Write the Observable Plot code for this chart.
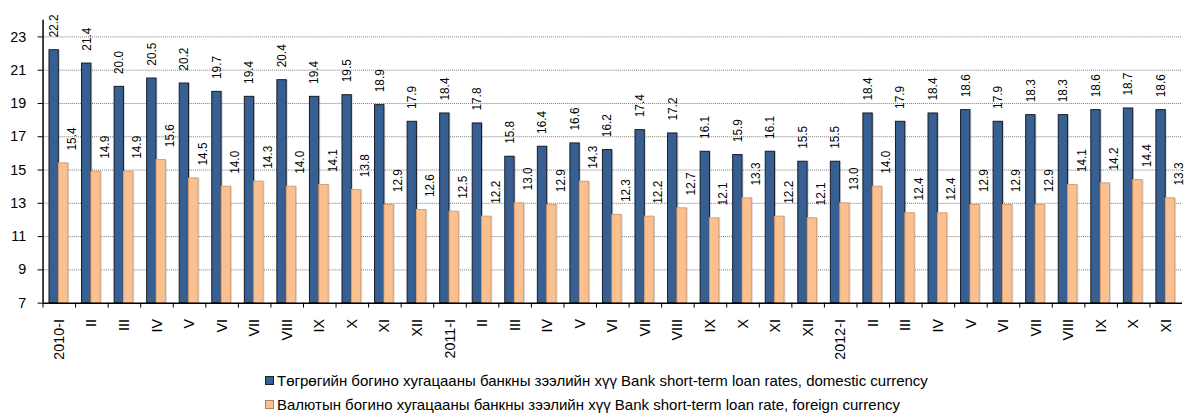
<!DOCTYPE html>
<html>
<head>
<meta charset="utf-8">
<script src="https://cdn.jsdelivr.net/npm/d3@7"></script>
<script src="https://cdn.jsdelivr.net/npm/@observablehq/plot@0.6"></script>
<style>
  html, body { margin: 0; padding: 0; background: #fff; overflow: hidden; }
  body { font-family: "Liberation Sans", Arial, sans-serif; width: 1187px; }
  #legend { padding-left: 265px; padding-top: 4px; font-size: 15px; color: #000; }
  .item { display: flex; align-items: center; height: 24px; }
  .sw { width: 7px; height: 7px; margin-right: 3px; border: 1px solid #222; }
</style>
</head>
<body>
<div id="chart"></div>
<div id="legend"></div>
<script>
// ---- data ----
const periods = [
  "2010-I","2010-II","2010-III","2010-IV","2010-V","2010-VI","2010-VII","2010-VIII","2010-IX","2010-X","2010-XI","2010-XII",
  "2011-I","2011-II","2011-III","2011-IV","2011-V","2011-VI","2011-VII","2011-VIII","2011-IX","2011-X","2011-XI","2011-XII",
  "2012-I","2012-II","2012-III","2012-IV","2012-V","2012-VI","2012-VII","2012-VIII","2012-IX","2012-X","2012-XI"
];
const tickLabels = [
  "2010-I","II","III","IV","V","VI","VII","VIII","IX","X","XI","XII",
  "2011-I","II","III","IV","V","VI","VII","VIII","IX","X","XI","XII",
  "2012-I","II","III","IV","V","VI","VII","VIII","IX","X","XI"
];
const domestic = [22.2,21.4,20.0,20.5,20.2,19.7,19.4,20.4,19.4,19.5,18.9,17.9,
  18.4,17.8,15.8,16.4,16.6,16.2,17.4,17.2,16.1,15.9,16.1,15.5,
  15.5,18.4,17.9,18.4,18.6,17.9,18.3,18.3,18.6,18.7,18.6];
const foreign = [15.4,14.9,14.9,15.6,14.5,14.0,14.3,14.0,14.1,13.8,12.9,12.6,
  12.5,12.2,13.0,12.9,14.3,12.3,12.2,12.7,12.1,13.3,12.2,12.1,
  13.0,14.0,12.4,12.4,12.9,12.9,12.9,14.1,14.2,14.4,13.3];
const yTicks = [7,9,11,13,15,17,19,21,23];
const seriesNames = [
  "Төгрөгийн богино хугацааны банкны зээлийн хүү Bank short-term loan rates, domestic currency",
  "Валютын богино хугацааны банкны зээлийн хүү Bank short-term loan rate, foreign currency"
];
const colors = ["#375F92", "#FAC090"];

// ---- build ----
const data = periods.map((p, i) => ({key: p, label: tickLabels[i], dom: domestic[i], fx: foreign[i]}));

const W = 1200, ML = 43, MR = 5;
const step = (W - ML - MR) / periods.length;

const chart = Plot.plot({
  width: W,
  height: 368,
  marginLeft: ML,
  marginRight: MR,
  marginTop: 20,
  marginBottom: 62,
  style: {fontFamily: "'Liberation Sans', Arial, sans-serif", fontSize: "14px", color: "#000", background: "#fff", overflow: "visible"},
  x: {domain: periods, padding: 0, axis: null, label: null},
  y: {domain: [7, 24], axis: null, label: null},
  marks: [
    Plot.ruleY(yTicks.filter(t => t > 7), {stroke: "#7a7a7a", strokeWidth: 1, strokeDasharray: "1,1"}),
    // shadows
    Plot.barY(data, {x: "key", y1: 7, y2: "dom", fill: "#000", fillOpacity: 0.18, insetLeft: 6.5, insetRight: 17, dx: 1.5}),
    Plot.barY(data, {x: "key", y1: 7, y2: "fx", fill: "#000", fillOpacity: 0.15, insetLeft: 16, insetRight: 7.5, dx: 1.5}),
    Plot.barY(data, {x: "key", y1: 7, y2: "dom", fill: colors[0], stroke: "#141c28", strokeWidth: 1, insetLeft: 6.5, insetRight: 17}),
    Plot.barY(data, {x: "key", y1: 7, y2: "fx", fill: colors[1], stroke: "#d9a075", strokeWidth: 1, insetLeft: 16, insetRight: 7.5}),
    Plot.text(data, {x: "key", y: "dom", text: d => d.dom.toFixed(1), rotate: -90, textAnchor: "start", lineAnchor: "middle", dy: -13, dx: -5.2, fontSize: 12, fill: "#000"}),
    Plot.text(data, {x: "key", y: "fx", text: d => d.fx.toFixed(1), rotate: -90, textAnchor: "start", lineAnchor: "middle", dy: -13, dx: 13.3, fontSize: 12, fill: "#000"}),
    // axes lines
    Plot.ruleY([7], {stroke: "#000", strokeWidth: 1.5}),
    Plot.ruleX([periods[0]], {y1: 7, y2: 24, dx: -step / 2, stroke: "#000", strokeWidth: 1.5}),
    Plot.axisY({ticks: yTicks, tickSize: 5, label: null, tickFormat: () => ""}),
    Plot.text(yTicks, {y: d => d, text: d => String(d), frameAnchor: "left", textAnchor: "end", dx: -17, fontSize: 14.5, fill: "#000"}),
    Plot.axisX({tickSize: 5, label: null, tickFormat: () => "", dx: -step / 2}),
    Plot.text(data, {x: "key", y: 7, text: "label", rotate: -90, textAnchor: "end", lineAnchor: "middle", dy: 16, fontSize: 14.5, fill: "#000"})
  ]
});
document.getElementById("chart").appendChild(chart);

const legend = document.getElementById("legend");
seriesNames.forEach((name, i) => {
  const row = document.createElement("div");
  row.className = "item";
  const sw = document.createElement("span");
  sw.className = "sw";
  sw.style.background = colors[i];
  if (i === 1) sw.style.borderColor = "#b08060";
  const t = document.createElement("span");
  t.textContent = name;
  row.appendChild(sw);
  row.appendChild(t);
  legend.appendChild(row);
});
</script>
</body>
</html>
